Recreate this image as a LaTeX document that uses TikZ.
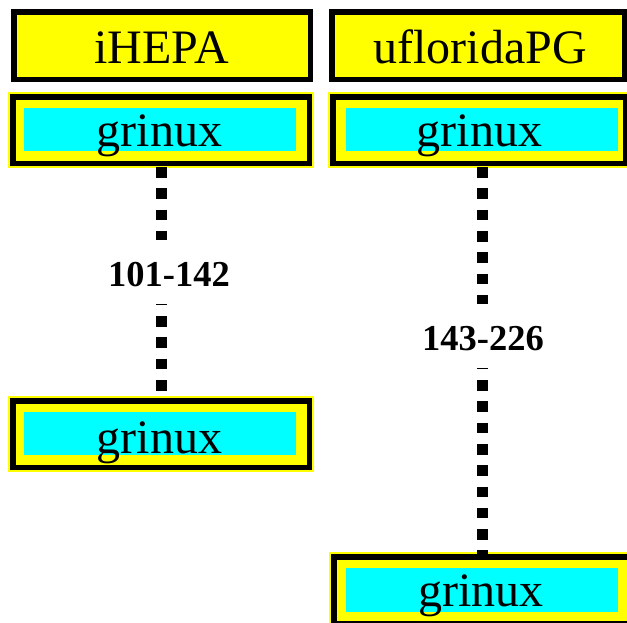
\documentclass[tikz,border=0pt]{standalone}
\usepackage{fontspec}
\setmainfont{Liberation Serif}
\definecolor{yel}{RGB}{255,255,0}
\definecolor{cyn}{RGB}{0,255,255}
\begin{document}
\begin{tikzpicture}[x=1pt,y=1pt,
 hdr/.style={draw=black, fill=yel, line width=5.5pt, minimum height=67.5pt, inner sep=0pt},
 frm/.style={draw=black, fill=yel, line width=5.5pt, minimum height=66.5pt, inner sep=0pt,
   preaction={draw=yel, line width=9.5pt}},
 cy/.style={fill=cyn, minimum width=272pt, minimum height=43pt, inner sep=0pt},
 big/.style={font=\fontsize{48}{50}\selectfont, anchor=base, inner sep=0pt},
 lbl/.style={fill=white, font=\fontsize{36.5}{40}\selectfont\bfseries, anchor=base,
   inner xsep=4pt, inner ysep=0pt, text height=46.5pt, text depth=18pt},
 conn/.style={line width=11pt, dash pattern=on 10.65pt off 10.65pt, shorten <=1pt}
]
\useasboundingbox (0,0) rectangle (627,-622);
\clip (0,0) rectangle (627,-622);
% headers
\node[hdr, minimum width=296.5pt] (h1) at (162,-45.5) {};
\node[big] (t1) at (161.5,-63) {iHEPA};
\node[hdr, minimum width=292.5pt] (h2) at (478,-45.5) {};
\node[big] (t2) at (480,-63) {ufloridaPG};
% top grinux boxes
\node[frm, minimum width=296.5pt] (a1) at (161,-130) {};
\node[cy] (c1) at (160,-129.5) {};
\node[big] (s1) at (159.5,-146.7) {grinux};
\node[frm, minimum width=292.5pt] (a2) at (479,-130) {};
\node[cy] (c2) at (482,-129.5) {};
\node[big] (s2) at (479.5,-146.7) {grinux};
% bottom grinux boxes
\node[frm, minimum width=296.5pt] (b1) at (161,-434) {};
\node[cy] (d1) at (160,-433.5) {};
\node[big] (u1) at (159.5,-453.3) {grinux};
\node[frm, minimum width=296.5pt] (b2) at (482,-590) {};
\node[cy, minimum height=44pt] (d2) at (482,-590) {};
\node[big] (u2) at (481,-606.7) {grinux};
% connectors
\draw[conn] (a1.south -| b1.north) -- (b1.north);
\draw[conn] (a2.south -| b2.north) -- (b2.north);
% labels
\node[lbl] (l1) at (169,-286) {101-142};
\node[lbl] (l2) at (483,-350) {143-226};
\end{tikzpicture}
\end{document}
